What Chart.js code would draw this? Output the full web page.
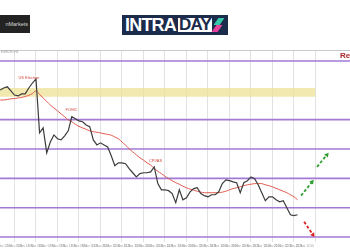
<!DOCTYPE html>
<html lang="en">
<head>
<meta charset="utf-8">
<title>EURUSD H4</title>
<script src="https://cdn.jsdelivr.net/npm/chart.js@4.4.1/dist/chart.umd.min.js"></script>
<style>
  html, body { margin: 0; padding: 0; background: #fff; }
  #page { position: relative; width: 350px; height: 250px; overflow: hidden; font-family: "Liberation Sans", Arial, sans-serif; }
  #chart-box { position: absolute; left: 0; top: 0; width: 350px; height: 250px; }
  .broker { position: absolute; left: 0; top: 15px; width: 30px; height: 18px; background: #232323; overflow: hidden; }
  .broker span { position: absolute; right: 2px; top: 0; color: #d6d6d6; font-size: 5.5px; line-height: 18px; white-space: nowrap; }
  .logo { position: absolute; left: 122px; top: 15px; width: 106px; height: 20px; background: #1b2b4b; }
  .logo .intra { position: absolute; left: 3px; top: 0; color: #fff; font: bold 18px/20px "Liberation Sans", Arial, sans-serif; letter-spacing: -0.8px; }
  .logo .day { position: absolute; left: 56px; top: 3px; width: 34px; height: 14px; background: #fff; overflow: hidden; }
  .logo .day span { position: absolute; left: 1px; top: -3px; color: #1b2b4b; font: bold 17px/20px "Liberation Sans", Arial, sans-serif; letter-spacing: -0.8px; }
  .logo .ic1 { position: absolute; left: 94px; top: 3px; width: 6px; height: 7px; background: #34c8a8; transform: skewX(-35deg); }
  .logo .ic2 { position: absolute; left: 92px; top: 10px; width: 6px; height: 7px; background: #e8409c; transform: skewX(-35deg); }
</style>
</head>
<body>
<div id="page">
  <div id="chart-box"><canvas id="fxChart" width="350" height="250"></canvas></div>
  <div class="broker"><span>nMarkets</span></div>
  <div class="logo">
    <span class="intra">INTRA</span>
    <div class="day"><span>DAY</span></div>
    <div class="ic1"></div>
    <div class="ic2"></div>
  </div>
</div>
<script>
// 4h bars, 6 per trading day, first bar 4 bars before day 0 (5 Nov)
const BARS_PER_DAY = 6;
const FIRST_BAR = -4;

const PRICE = [
  1.0901, 1.0908, 1.0912, 1.0898, 1.0884, 1.0881, 1.0888, 1.0888, 1.0908, 1.0925,
  1.0939, 1.0755, 1.0772, 1.0687, 1.0724, 1.0748, 1.0735, 1.0731, 1.0745, 1.0762,
  1.0810, 1.0803, 1.0796, 1.0793, 1.0782, 1.0776, 1.0731, 1.0714, 1.0721, 1.0714,
  1.0707, 1.0677, 1.0643, 1.0653, 1.0653, 1.0650, 1.0633, 1.0619, 1.0605, 1.0616,
  1.0619, 1.0619, 1.0622, 1.0639, 1.0582, 1.0561, 1.0561, 1.0558, 1.0548, 1.0517,
  1.0561, 1.0527, 1.0534, 1.0554, 1.0565, 1.0568, 1.0548, 1.0541, 1.0537, 1.0544,
  1.0544, 1.0554, 1.0582, 1.0595, 1.0592, 1.0588, 1.0585, 1.0551, 1.0585, 1.0592,
  1.0605, 1.0599, 1.0578, 1.0551, 1.0524, 1.0537, 1.0537, 1.0527, 1.0520, 1.0524,
  1.0500, 1.0476, 1.0473, 1.0476
];

const MA = [
  1.0867, 1.0867, 1.0869, 1.0871, 1.0872, 1.0874, 1.0876, 1.0879, 1.0883, 1.0889,
  1.0898, 1.0886, 1.0874, 1.0862, 1.0850, 1.0840, 1.0830, 1.0820, 1.0810, 1.0799,
  1.0793, 1.0784, 1.0777, 1.0772, 1.0767, 1.0762, 1.0759, 1.0757, 1.0755, 1.0752,
  1.0750, 1.0747, 1.0741, 1.0735, 1.0724, 1.0713, 1.0701, 1.0690, 1.0680, 1.0670,
  1.0662, 1.0653, 1.0645, 1.0634, 1.0624, 1.0616, 1.0607, 1.0599, 1.0592, 1.0585,
  1.0580, 1.0573, 1.0568, 1.0563, 1.0560, 1.0556, 1.0553, 1.0551, 1.0551, 1.0551,
  1.0551, 1.0551, 1.0553, 1.0556, 1.0561, 1.0565, 1.0568, 1.0571, 1.0575, 1.0578,
  1.0580, 1.0582, 1.0582, 1.0582, 1.0578, 1.0575, 1.0571, 1.0566, 1.0561, 1.0556,
  1.0551, 1.0544, 1.0537, 1.0527
];

const LEVELS = [1.1000, 1.0800, 1.0700, 1.0600, 1.0500, 1.0400];
const ZONE_LOW = 1.0878;
const ZONE_HIGH = 1.0908;
const ZONE_END_DAY = 14;

const GRID_DAYS = [0, 1, 2, 3, 4, 5, 6, 7, 8, 9, 10, 11, 12, 13, 14];
const DATE_LABELS = [
  '4 Nov 12:00', '5 Nov 2024', '5 Nov 12:00', '6 Nov 2024', '6 Nov 12:00', '7 Nov 2024', '7 Nov 12:00',
  '8 Nov 2024', '8 Nov 12:00', '11 Nov 2024', '11 Nov 12:00', '12 Nov 2024', '12 Nov 12:00',
  '13 Nov 2024', '13 Nov 12:00', '14 Nov 2024', '14 Nov 12:00', '15 Nov 2024', '15 Nov 12:00',
  '18 Nov 2024', '18 Nov 12:00', '19 Nov 2024', '19 Nov 12:00', '20 Nov 2024', '20 Nov 12:00',
  '21 Nov 2024', '21 Nov 12:00', '22 Nov 2024', '22 Nov 12:00'
];

const EVENT_LABELS = ['US Election', 'FOMC', 'CPI/AS'];
const EVENT_DAYS = [0.67, 2.65, 6.56];
const EVENT_PRICES = [1.0944, 1.0833, 1.0658];

// scenario arrows: [day start, day end], [price start, price end]
const UP1_DAYS = [13.33, 13.84], UP1_PRICES = [1.0541, 1.0588];
const UP2_DAYS = [14.07, 14.53], UP2_PRICES = [1.0639, 1.0680];
const DOWN_DAYS = [13.47, 13.88], DOWN_PRICES = [1.0452, 1.0408];

const X_MIN = -0.674, X_MAX = 15.605;
const Y_MIN = 1.0383, Y_MAX = 1.10375;

const PURPLE = '#a27ad6';
const toBars = arr => arr.map((v, i) => ({ x: (i + FIRST_BAR) / BARS_PER_DAY, y: v }));
const pair = (xs, ys) => xs.map((x, i) => ({ x: x, y: ys[i] }));

function arrowSet(xs, ys, color, rot) {
  return {
    data: pair(xs, ys), borderColor: color, backgroundColor: color, borderWidth: 1.8,
    borderDash: [3, 2], pointStyle: 'triangle', pointRadius: [0, 2.8], pointRotation: [0, rot],
    pointBorderWidth: 0
  };
}

const datasets = [
  { data: toBars(PRICE), borderColor: '#3c3c3c', borderWidth: 1.2, pointRadius: 0, tension: 0 },
  { data: toBars(MA), borderColor: '#df5a4e', borderWidth: 1, pointRadius: 0, tension: 0.3 },
  arrowSet(UP1_DAYS, UP1_PRICES, '#2f9e2f', 38),
  arrowSet(UP2_DAYS, UP2_PRICES, '#2f9e2f', 40),
  arrowSet(DOWN_DAYS, DOWN_PRICES, '#d92020', 145)
];
LEVELS.forEach(lv => datasets.push({
  data: [{ x: X_MIN, y: lv }, { x: X_MAX, y: lv }],
  borderColor: PURPLE, borderWidth: 1.6, pointRadius: 0
}));
datasets.push({
  data: [{ x: X_MIN, y: ZONE_HIGH }, { x: ZONE_END_DAY, y: ZONE_HIGH }],
  borderWidth: 0, pointRadius: 0, fill: { value: ZONE_LOW }, backgroundColor: 'rgba(238,226,150,0.75)'
});

// event notes, date strip and the frame top line
const notes = {
  id: 'notes',
  afterDatasetsDraw(chart) {
    const { ctx, chartArea, scales: { x, y } } = chart;
    ctx.save();
    ctx.strokeStyle = '#c9c9c9';
    ctx.lineWidth = 1;
    ctx.beginPath();
    ctx.moveTo(chartArea.left, chartArea.top + 0.5);
    ctx.lineTo(chartArea.right, chartArea.top + 0.5);
    ctx.stroke();

    ctx.textAlign = 'center';
    ctx.textBaseline = 'middle';
    ctx.fillStyle = '#d0453d';
    ctx.font = '4px "Liberation Sans", Arial, sans-serif';
    EVENT_LABELS.forEach((txt, i) => {
      ctx.fillText(txt, x.getPixelForValue(EVENT_DAYS[i]), y.getPixelForValue(EVENT_PRICES[i]));
    });

    ctx.textAlign = 'left';
    ctx.fillStyle = '#b0262c';
    ctx.font = 'bold 8px "Liberation Sans", Arial, sans-serif';
    ctx.fillText('Resistance', x.getPixelForValue(15.14), y.getPixelForValue(1.1017));

    ctx.fillStyle = '#9a9a9a';
    ctx.font = '3px "Liberation Sans", Arial, sans-serif';
    ctx.fillText('EURUSD,H4', chartArea.left + 1, chartArea.top + 2.5);

    ctx.textAlign = 'center';
    DATE_LABELS.forEach((d, i) => {
      ctx.fillText(d, x.getPixelForValue(i / 2 - 0.5), chartArea.bottom + 4);
    });
    ctx.restore();
  }
};

new Chart(document.getElementById('fxChart'), {
  type: 'line',
  data: { datasets: datasets },
  options: {
    responsive: false,
    animation: false,
    events: [],
    layout: { autoPadding: false, padding: { top: 50, left: 0, right: 0, bottom: 8 } },
    plugins: { legend: { display: false }, tooltip: { enabled: false } },
    scales: {
      x: {
        type: 'linear', min: X_MIN, max: X_MAX,
        afterBuildTicks: axis => { axis.ticks = GRID_DAYS.map(d => ({ value: d })); },
        ticks: { display: false },
        grid: { color: '#e2e2e2', drawTicks: false },
        border: { display: false }
      },
      y: { display: false, min: Y_MIN, max: Y_MAX }
    }
  },
  plugins: [notes]
});
</script>
</body>
</html>
